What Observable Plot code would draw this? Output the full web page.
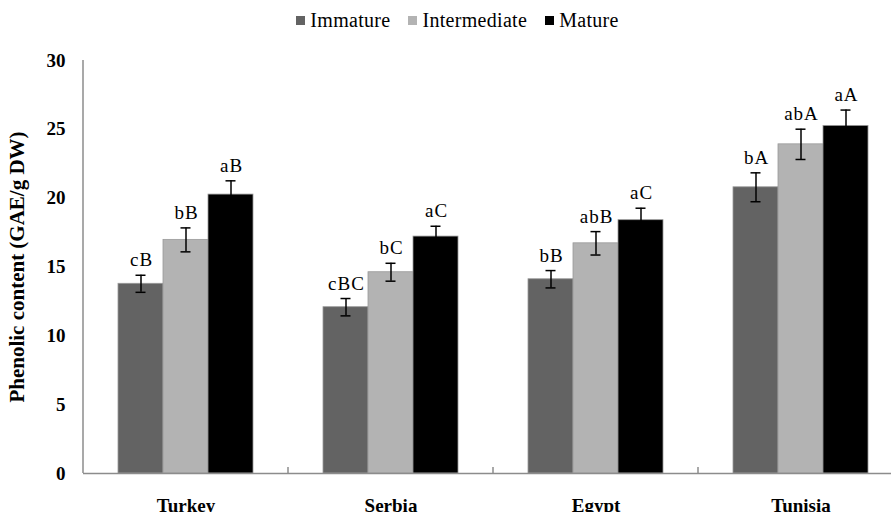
<!DOCTYPE html>
<html>
<head>
<meta charset="utf-8">
<script src="https://cdn.jsdelivr.net/npm/d3@7"></script>
<script src="https://cdn.jsdelivr.net/npm/@observablehq/plot@0.6"></script>
<style>
  body { margin: 0; background: #fff; }
  #legend { width: 891px; height: 40px; box-sizing: border-box; padding-left: 24px;
    display: flex; justify-content: center; align-items: center;
    font-family: "Liberation Serif", serif; font-size: 20px; color: #000; letter-spacing: 0.3px; }
  #legend .item { display: flex; align-items: center; margin: 0 9px; }
  #legend .sw { width: 9px; height: 9px; margin-right: 5px; display: inline-block; }
</style>
</head>
<body>
<div id="legend"></div>
<div id="chart"></div>
<script>
const countries = ["Turkey", "Serbia", "Egypt", "Tunisia"];
const stages = ["Immature", "Intermediate", "Mature"];
const stageColors = ["#636363", "#b3b3b3", "#000000"];
const immatureValues = [13.78, 12.08, 14.11, 20.79];
const intermediateValues = [16.97, 14.62, 16.72, 23.91];
const matureValues = [20.26, 17.21, 18.40, 25.25];
const immatureErr = [0.62, 0.63, 0.63, 1.05];
const intermediateErr = [0.87, 0.65, 0.85, 1.1];
const matureErr = [1.0, 0.75, 0.87, 1.15];
const immatureLabels = ["cB", "cBC", "bB", "bA"];
const intermediateLabels = ["bB", "bC", "abB", "abA"];
const matureLabels = ["aB", "aC", "aC", "aA"];
const yTicks = [0, 5, 10, 15, 20, 25, 30];
const yTitle = "Phenolic content (GAE/g DW)";

const seriesValues = [immatureValues, intermediateValues, matureValues];
const seriesErr = [immatureErr, intermediateErr, matureErr];
const seriesLabels = [immatureLabels, intermediateLabels, matureLabels];

const data = [];
countries.forEach((c, i) => {
  stages.forEach((s, j) => {
    const v = seriesValues[j][i], e = seriesErr[j][i];
    data.push({country: c, stage: s, value: v, lo: v - e, hi: v + e, label: seriesLabels[j][i]});
  });
});

// legend
const legend = document.getElementById("legend");
stages.forEach((s, j) => {
  const item = document.createElement("span");
  item.className = "item";
  const sw = document.createElement("span");
  sw.className = "sw";
  sw.style.background = stageColors[j];
  item.appendChild(sw);
  item.appendChild(document.createTextNode(s));
  legend.appendChild(item);
});

const chart = Plot.plot({
  width: 891,
  height: 472,
  marginLeft: 83,
  marginRight: -12,
  marginTop: 20,
  marginBottom: 39,
  style: {fontFamily: "Liberation Serif, serif", background: "white", overflow: "visible", color: "black"},
  fx: {domain: countries, padding: 0, label: null},
  x: {domain: stages, paddingInner: 0, paddingOuter: 0.75, axis: null},
  y: {domain: [0, 30]},
  color: {domain: stages, range: stageColors},
  marks: [
    Plot.axisY({ticks: yTicks, tickSize: 0, tickPadding: 18, fontSize: 19, fontWeight: "bold", label: null}),
    Plot.axisY({ticks: [], tickSize: 0, fontSize: 21, fontWeight: "bold", label: yTitle, labelArrow: "none", labelAnchor: "center", labelOffset: 74}),
    Plot.axisFx({anchor: "bottom", tickSize: 0, tickPadding: 25, fontSize: 19, fontWeight: "bold", label: null}),
    Plot.barY(data, {fx: "country", x: "stage", y: "value", fill: "stage", stroke: "#9a9a9a", strokeWidth: 0.8}),
    Plot.ruleY([0], {stroke: "#8c8c8c", strokeWidth: 1.5}),
    Plot.ruleX(data, {fx: "country", x: "stage", y1: "lo", y2: "hi", stroke: "black", strokeWidth: 1.5}),
    Plot.tickY(data, {fx: "country", x: "stage", y: "hi", stroke: "black", strokeWidth: 1.5, insetLeft: 17.5, insetRight: 17.5}),
    Plot.tickY(data, {fx: "country", x: "stage", y: "lo", stroke: "black", strokeWidth: 1.5, insetLeft: 17.5, insetRight: 17.5}),
    Plot.text(data, {fx: "country", x: "stage", y: "hi", text: "label", dy: -9, lineAnchor: "bottom", fontSize: 19, fill: "black"})
  ]
});
document.getElementById("chart").appendChild(chart);

// letter spacing for value labels
d3.select(chart).selectAll("g[aria-label='text'] text").attr("letter-spacing", 1).attr("dx", 0.5);

// y axis line and category boundary ticks using the plot's scales
const fxs = chart.scale("fx");
const ys = chart.scale("y");
const svg = d3.select(chart.tagName.toLowerCase() === "svg" ? chart : chart.querySelector("svg"));
const x0 = fxs.apply(countries[0]);
svg.append("line")
  .attr("x1", x0).attr("x2", x0)
  .attr("y1", ys.apply(30)).attr("y2", ys.apply(0))
  .attr("stroke", "#8c8c8c").attr("stroke-width", 1.5);
countries.slice(1).forEach(c => {
  const xb = fxs.apply(c);
  svg.append("line")
    .attr("x1", xb).attr("x2", xb)
    .attr("y1", ys.apply(0) - 6).attr("y2", ys.apply(0))
    .attr("stroke", "#8c8c8c").attr("stroke-width", 1.5);
});
</script>
</body>
</html>
